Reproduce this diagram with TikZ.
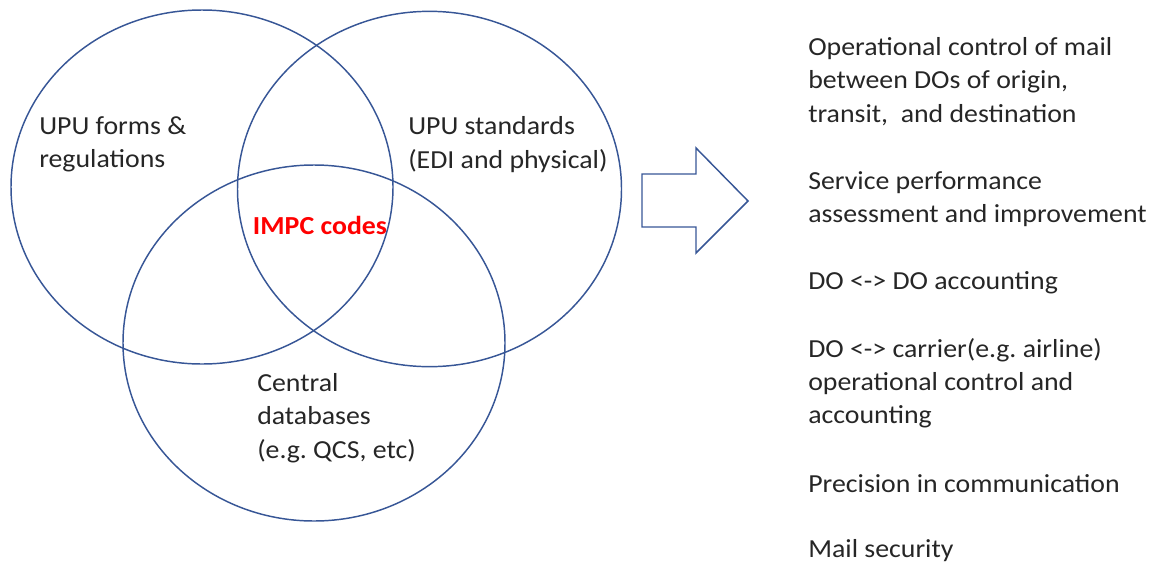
\documentclass[tikz,border=0pt]{standalone}
\usepackage{fontspec}
\setmainfont{Carlito}[FakeStretch=1.07]
\usetikzlibrary{shapes.geometric}
\definecolor{vennblue}{RGB}{55,86,150}
\definecolor{impcred}{RGB}{255,0,0}
\frenchspacing
\tikzset{
  venn/.style={ellipse, draw=vennblue, line width=1.1pt, inner sep=0pt},
  lbl/.style={inner sep=0pt, align=left, anchor=west, font=\fontsize{19.5pt}{24.9pt}\selectfont, text=black!85},
}
\begin{document}
\begin{tikzpicture}[x=0.75pt,y=-0.75pt]
\useasboundingbox (0,0) rectangle (1153,568);
% circles
\node[venn, minimum width=286.5pt, minimum height=265.5pt] (forms) at (202,187) {};
\node[venn, minimum width=288pt, minimum height=266.5pt] (stds) at (429.5,189) {};
\node[venn, minimum width=286.5pt, minimum height=267pt] (db) at (314,343) {};
% circle labels
\node[lbl] (tforms) at (39,144) {UPU forms \&\\regulations};
\node[lbl] (tstds) at (408,144.5) {UPU standards\\(EDI and physical)};
\node[lbl] (tdb) at (257,418) {Central\\databases\\(e.g. QCS, etc)};
\node[lbl, anchor=center, font=\fontsize{19.5pt}{24.9pt}\selectfont\bfseries, text=impcred] (impc) at (320,225) {IMPC codes};
% block arrow
\draw[draw=vennblue, line width=1.1pt, line join=miter]
  (642,174) coordinate (a1) -- (696,174) -- (696,148) -- (748,201) coordinate (tip)
  -- (696,253) -- (696,227) -- (642,227) -- cycle;
% list
\node[lbl] (i1) at (808,81.5) {Operational control of mail\\between DOs of origin,\\transit,\ \ and destination};
\node[lbl] (i2) at (808,199.5) {Service performance\\assessment and improvement};
\node[lbl] (i3) at (808,283) {DO <-> DO accounting};
\node[lbl] (i4) at (808,383) {DO <-> carrier(e.g. airline)\\operational control and\\accounting};
\node[lbl] (i5) at (808,484) {Precision in communication};
\node[lbl] (i6) at (808,551) {Mail security};
\end{tikzpicture}
\end{document}
